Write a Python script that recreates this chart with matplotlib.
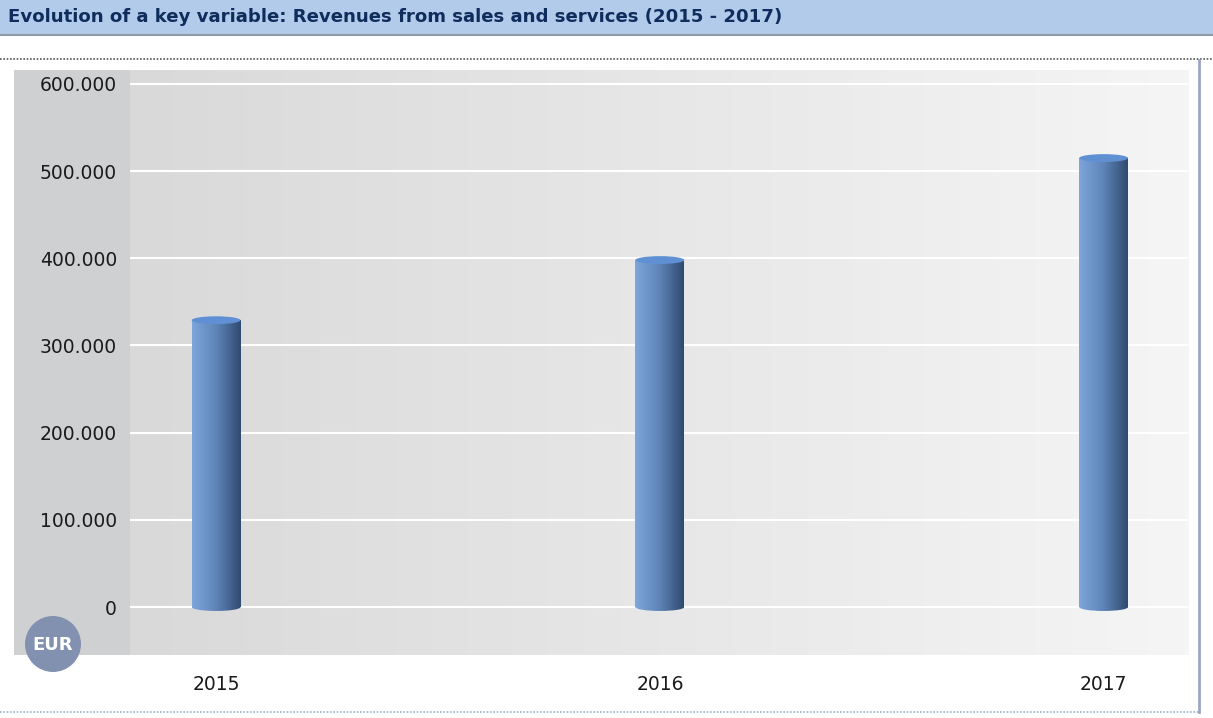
import numpy as np
import matplotlib
matplotlib.use('Agg')
import matplotlib.pyplot as plt
from matplotlib.patches import Rectangle, Ellipse
from matplotlib.lines import Line2D
from matplotlib.colors import LinearSegmentedColormap

years = ['2015', '2016', '2017']
revenues = [329000, 398000, 515000]
yticks = [0, 100000, 200000, 300000, 400000, 500000, 600000]
ytick_labels = ['0', '100.000', '200.000', '300.000', '400.000', '500.000', '600.000']

W, H = 1213, 718
fig = plt.figure(figsize=(W / 100, H / 100), dpi=100, facecolor='white')

def fx(px):
    return px / W

def fy(py):
    return 1 - py / H

# title bar
fig.patches.append(Rectangle((0, fy(35)), 1, 35 / H, transform=fig.transFigure,
                             facecolor='#b3cbea', edgecolor='none', zorder=-2))
fig.lines.append(Line2D([0, 1], [fy(35), fy(35)], transform=fig.transFigure,
                        color='#8f9aa8', lw=1.5))
fig.text(fx(8), fy(17), 'Evolution of a key variable: Revenues from sales and services (2015 - 2017)',
         fontsize=13.1, fontweight='bold', color='#0f2d5c', ha='left', va='center')

# frame lines around the chart block
fig.lines.append(Line2D([0, 1], [fy(59), fy(59)], transform=fig.transFigure,
                        color='#555555', lw=1.2, ls=(0, (1, 1))))
fig.lines.append(Line2D([0, fx(1199)], [fy(712), fy(712)], transform=fig.transFigure,
                        color='#9fb0cc', lw=1.2, ls=(0, (1, 1))))
fig.lines.append(Line2D([fx(1199), fx(1199)], [fy(60), fy(712)], transform=fig.transFigure,
                        color='#9ea6c4', lw=2))

# gray label panel on the left
fig.patches.append(Rectangle((fx(14), fy(655)), fx(130 - 14), (655 - 70) / H,
                             transform=fig.transFigure, facecolor='#cfd0d2',
                             edgecolor='none', zorder=-2))

ax = fig.add_axes([fx(130), fy(655), fx(1188 - 130), (655 - 70) / H])
ax.set_zorder(1)

# background gradient
bg = LinearSegmentedColormap.from_list('bg', ['#d9d9d9', '#f5f5f5'])
grad = np.linspace(0, 1, 256).reshape(1, -1)
ax.imshow(grad, extent=(0, 1, 0, 1), transform=ax.transAxes, cmap=bg,
          aspect='auto', zorder=0)

for t in yticks:
    ax.axhline(t, color='white', lw=1.5, zorder=1)

ax.set_yticks(yticks)
ax.set_yticklabels(ytick_labels)
ax.set_xticks(range(len(years)))
ax.set_xticklabels(years)
ax.tick_params(axis='y', length=0, pad=9.4, labelsize=13.5, labelcolor='#1a1a1a')
ax.tick_params(axis='x', length=0, pad=14.4, labelsize=13.5, labelcolor='#1a1a1a')
for s in ax.spines.values():
    s.set_visible(False)

# cylinder bars: gradient body, rounded base, flat cap on top
bar_cmap = LinearSegmentedColormap.from_list('bar', ['#7ea6dc', '#5f84b8', '#2f4a70'])
bar_w = 0.11
cap_h = 9000
for i, v in enumerate(revenues):
    x0 = i - bar_w / 2
    body = Rectangle((x0, 0), bar_w, v, facecolor='none', edgecolor='none')
    ax.add_patch(body)
    im = ax.imshow(grad, extent=(x0, x0 + bar_w, -cap_h, v), cmap=bar_cmap,
                   aspect='auto', zorder=3)
    im.set_clip_path(body)
    base = Ellipse((i, 0), bar_w, cap_h, facecolor='none', edgecolor='none')
    ax.add_patch(base)
    im2 = ax.imshow(grad, extent=(x0, x0 + bar_w, -cap_h, v), cmap=bar_cmap,
                    aspect='auto', zorder=3)
    im2.set_clip_path(base)
    ax.add_patch(Ellipse((i, v), bar_w, cap_h, facecolor='#5f90d4',
                         edgecolor='none', zorder=4))

ax.set_xlim(-0.194, 2.19)
ax.set_ylim(-55000, 616000)

# currency badge
badge = Ellipse((fx(53), fy(644)), 56 / W, 56 / H, transform=fig.transFigure,
                facecolor='#8291b0', edgecolor='none', zorder=5)
fig.patches.append(badge)
fig.text(fx(53), fy(645), 'EUR', fontsize=13, fontweight='bold', color='white',
         ha='center', va='center', zorder=6)

fig.savefig('out.png', dpi=100, facecolor='white')
